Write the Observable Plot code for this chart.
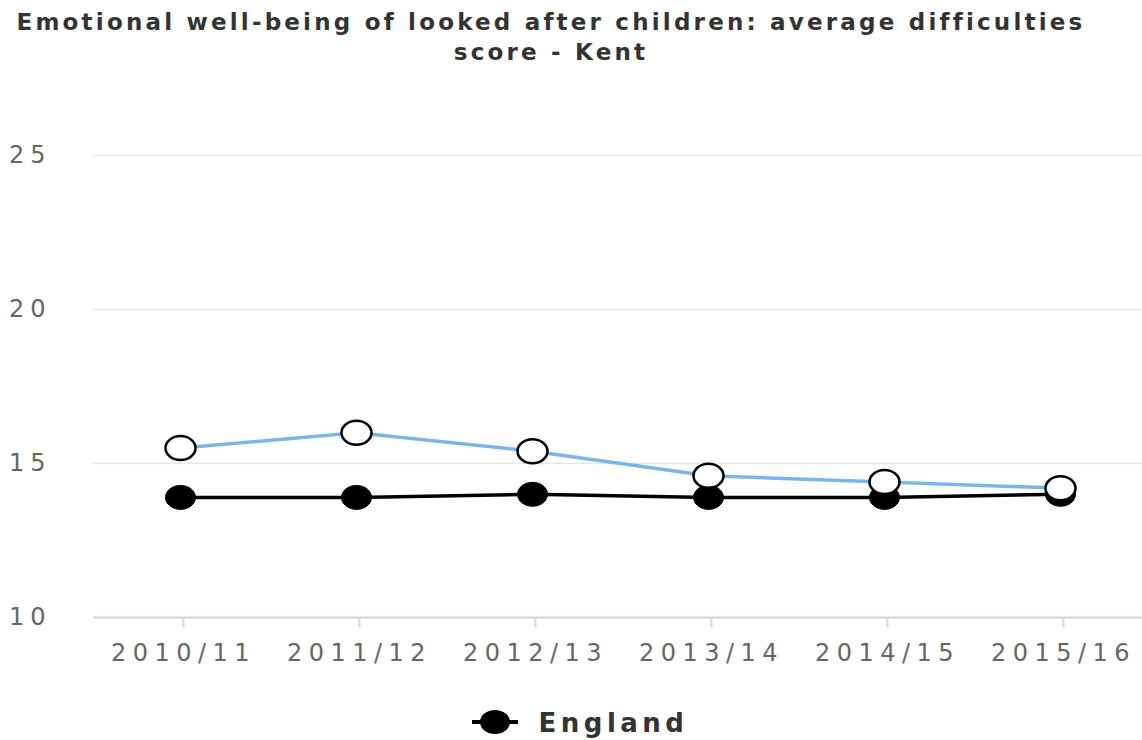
<!DOCTYPE html>
<html>
<head>
<meta charset="utf-8">
<script src="https://cdn.jsdelivr.net/npm/d3@7"></script>
<script src="https://cdn.jsdelivr.net/npm/@observablehq/plot@0.6"></script>
<style>
  body { margin: 0; background: #fff; width: 1142px; overflow: hidden; }
  #title { height: 80px; box-sizing: border-box; padding-top: 7px; padding-right: 40px; text-align: center;
    font-family: "DejaVu Sans", sans-serif; white-space: nowrap;
    font-weight: bold; font-size: 23px; line-height: 30px; letter-spacing: 3.2px; color: #333; }
  #legend { text-align: center; padding-top: 8px; padding-left: 18px; font-family: "DejaVu Sans", sans-serif;
    font-weight: bold; font-size: 26px; letter-spacing: 4.5px; color: #333; }
  #legend svg { vertical-align: middle; margin-right: 21px; margin-top: -6px; }
  #chart svg { display: block; }
  #chart g[aria-label="x-axis tick label"] text { letter-spacing: 6.5px; }
  #chart g[aria-label="y-axis tick label"] text { letter-spacing: 6px; }
</style>
</head>
<body>
<div id="title">Emotional well-being of looked after children: average difficulties<br>score - Kent</div>
<div id="chart"></div>
<div id="legend"></div>
<script>
const years = ["2010/11", "2011/12", "2012/13", "2013/14", "2014/15", "2015/16"];
const kent = [15.5, 16.0, 15.4, 14.6, 14.4, 14.2];
const england = [13.9, 13.9, 14.0, 13.9, 13.9, 14.0];
const yTicks = [10, 15, 20, 25];

const kentData = years.map((year, i) => ({year, value: kent[i]}));
const englandData = years.map((year, i) => ({year, value: england[i]}));

// ellipse marker symbol (wider than tall, like the reference)
const RX = 15, RY = 12, K = 0.5523;
const ellipse = {
  draw(ctx) {
    ctx.moveTo(RX, 0);
    ctx.bezierCurveTo(RX, K * RY, K * RX, RY, 0, RY);
    ctx.bezierCurveTo(-K * RX, RY, -RX, K * RY, -RX, 0);
    ctx.bezierCurveTo(-RX, -K * RY, -K * RX, -RY, 0, -RY);
    ctx.bezierCurveTo(K * RX, -RY, RX, -K * RY, RX, 0);
    ctx.closePath();
  }
};

const font = '"DejaVu Sans", sans-serif';

const chart = Plot.plot({
  width: 1142,
  height: 620,
  marginTop: 75,
  marginBottom: 83,
  marginLeft: 93,
  marginRight: 0,
  style: {fontFamily: font, background: "#fff"},
  x: {type: "point", domain: years, range: [179, 1061], padding: 0},
  y: {domain: [10, 25], ticks: yTicks},
  marks: [
    Plot.ruleY([15, 20, 25], {stroke: "#e6e6e6", strokeWidth: 1.5}),
    Plot.ruleY([10], {stroke: "#ccd6eb", strokeWidth: 2}),
    Plot.axisY({ticks: yTicks, tickSize: 0, tickPadding: 42, textAnchor: "end",
      fontSize: 24, fill: "#666", label: null}),
    Plot.axisX({tickSize: 10, stroke: "#ccd6eb", strokeWidth: 2, tickPadding: 16,
      fontSize: 24, fill: "#666", label: null, dx: 3}),
    Plot.line(englandData, {x: "year", y: "value", stroke: "#000", strokeWidth: 3.5}),
    Plot.dot(englandData, {x: "year", y: "value", symbol: ellipse, fill: "#000", stroke: "#000", strokeWidth: 1}),
    Plot.line(kentData, {x: "year", y: "value", stroke: "#7cb5ec", strokeWidth: 3.5}),
    Plot.dot(kentData, {x: "year", y: "value", symbol: ellipse, fill: "#fff", stroke: "#000", strokeWidth: 2.5})
  ]
});
document.getElementById("chart").appendChild(chart);

// legend: England only
const legend = document.getElementById("legend");
const ns = "http://www.w3.org/2000/svg";
const ls = document.createElementNS(ns, "svg");
ls.setAttribute("width", 46);
ls.setAttribute("height", 26);
ls.innerHTML = '<line x1="0" y1="13" x2="46" y2="13" stroke="#000" stroke-width="4"/>' +
  '<ellipse cx="23" cy="13" rx="15" ry="12" fill="#000"/>';
legend.appendChild(ls);
legend.appendChild(document.createTextNode("England"));
</script>
</body>
</html>
